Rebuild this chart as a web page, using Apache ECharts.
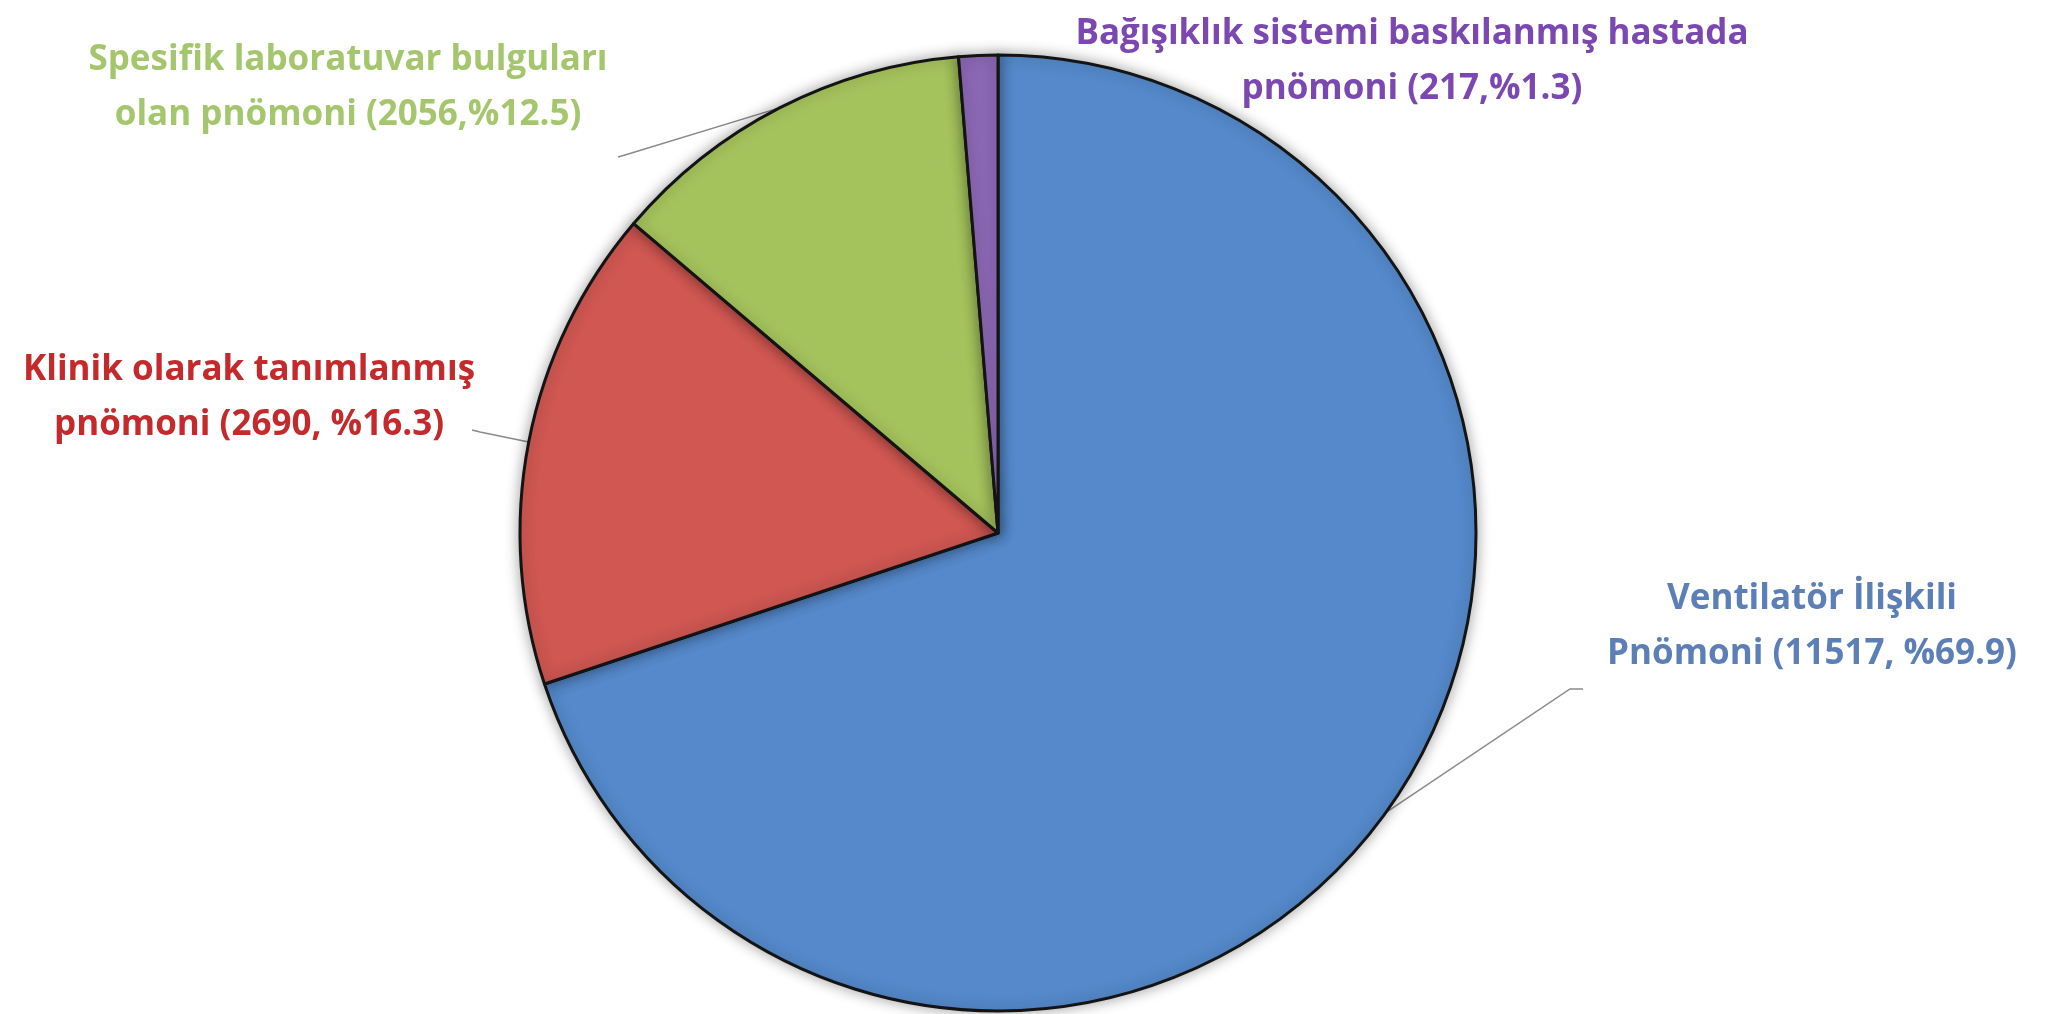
<!DOCTYPE html>
<html>
<head>
<meta charset="utf-8">
<script src="https://cdn.jsdelivr.net/npm/echarts@6/dist/echarts.min.js"></script>
<style>
  html, body { margin: 0; padding: 0; background: #fff; }
  #chart { width: 2048px; height: 1014px; }
</style>
</head>
<body>
<div id="chart"></div>
<script>
// slices, clockwise from 12 o'clock
const categories = [
    'Ventilatör İlişkili Pnömoni',
    'Klinik olarak tanımlanmış pnömoni',
    'Spesifik laboratuvar bulguları olan pnömoni',
    'Bağışıklık sistemi baskılanmış hastada pnömoni'
];
const counts = [11517, 2690, 2056, 217];
const labelLines = [
    ['Ventilatör İlişkili', 'Pnömoni (11517, %69.9)'],
    ['Klinik olarak tanımlanmış', 'pnömoni (2690, %16.3)'],
    ['Spesifik laboratuvar bulguları', 'olan pnömoni (2056,%12.5)'],
    ['Bağışıklık sistemi baskılanmış hastada', 'pnömoni (217,%1.3)']
];

const sliceColors = ['#5589cb', '#d05752', '#a5c35d', '#8c68b4'];
const textColors = ['#5b7fb6', '#c42a2c', '#a4c66c', '#7a48b0'];
// label centres in px
const labelPos = [[1812, 627], [249, 398], [348, 88], [1412, 62]];
// leader line bend / end, relative to the label centre (null = no line)
const leaderEnds = [
    [[-242, 62], [-229, 62]],
    [[231, 34], [223, 32]],
    [[277, 67], [270, 69]],
    null
];

const chart = echarts.init(document.getElementById('chart'));

const data = categories.map(function (name, i) {
    return {
        name: name,
        value: counts[i],
        itemStyle: {color: sliceColors[i]},
        label: {color: textColors[i]},
        labelLine: {show: leaderEnds[i] !== null}
    };
});

chart.setOption({
    animation: false,
    backgroundColor: '#ffffff',
    series: [{
        type: 'pie',
        center: [998, 533],
        radius: 478,
        startAngle: 90,
        clockwise: true,
        data: data,
        itemStyle: {
            borderColor: '#141414',
            borderWidth: 3,
            shadowBlur: 14,
            shadowColor: 'rgba(0,0,0,0.35)'
        },
        label: {
            show: true,
            formatter: function (p) {
                return labelLines[p.dataIndex].join('\n');
            },
            fontFamily: 'Open Sans',
            fontWeight: 'bold',
            fontSize: 35,
            lineHeight: 55,
            align: 'center'
        },
        labelLine: {
            show: true,
            length: 20,
            length2: 20,
            lineStyle: {color: '#8a8a8a', width: 1.5}
        },
        labelLayout: function (params) {
            const i = params.dataIndex;
            const pos = labelPos[i];
            const out = {
                x: pos[0],
                y: pos[1],
                align: 'center',
                verticalAlign: 'middle'
            };
            const ends = leaderEnds[i];
            const pts = params.labelLinePoints;
            if (ends && pts && pts.length) {
                out.labelLinePoints = [
                    pts[0],
                    [pos[0] + ends[0][0], pos[1] + ends[0][1]],
                    [pos[0] + ends[1][0], pos[1] + ends[1][1]]
                ];
            }
            return out;
        },
        emphasis: {disabled: true}
    }]
});
</script>
</body>
</html>
